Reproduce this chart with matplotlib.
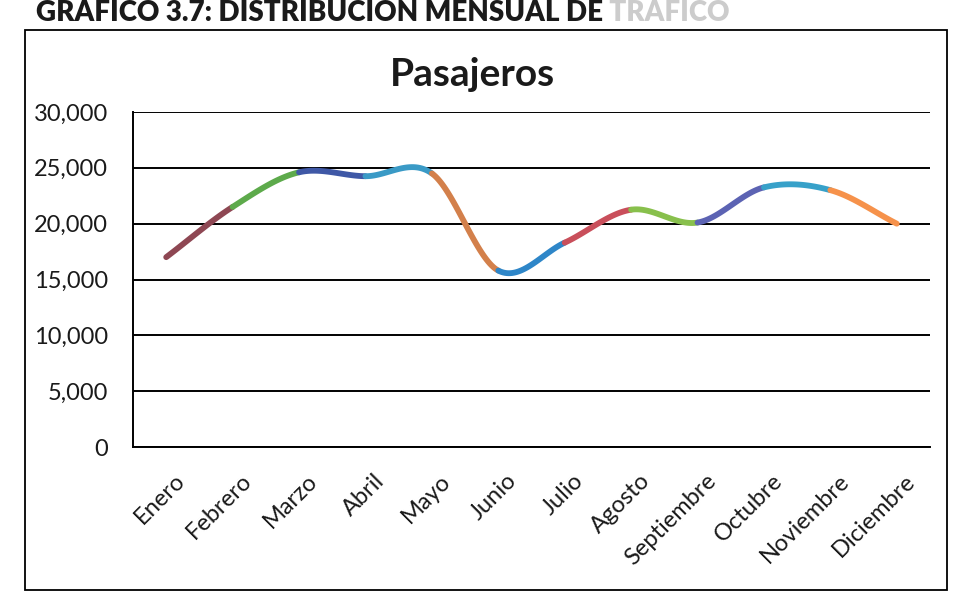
import numpy as np
import matplotlib
matplotlib.use("Agg")
import matplotlib.pyplot as plt
from matplotlib.patches import Rectangle

plt.rcParams['font.family'] = ['Lato', 'DejaVu Sans']

meses = ['Enero', 'Febrero', 'Marzo', 'Abril', 'Mayo', 'Junio', 'Julio',
         'Agosto', 'Septiembre', 'Octubre', 'Noviembre', 'Diciembre']
pasajeros = [17000, 21500, 24600, 24250, 24500, 15800, 18300,
             21250, 20100, 23250, 23000, 20000]
colores = ['#8E4753', '#5DAA4B', '#3F58A6', '#3A9AC6', '#D3804B', '#2E86C8',
           '#C94F5B', '#88C04C', '#5C63B3', '#37A1C9', '#F6924B']
y_ticks = [0, 5000, 10000, 15000, 20000, 25000, 30000]


def tramo_suave(x, y, i, n=40):
    # curva tipo Excel (Catmull-Rom como Bezier) entre el punto i y el i+1
    def tangente(k):
        if k == 0:
            return (x[1] - x[0], y[1] - y[0])
        if k == len(x) - 1:
            return (x[k] - x[k - 1], y[k] - y[k - 1])
        return ((x[k + 1] - x[k - 1]) / 2, (y[k + 1] - y[k - 1]) / 2)
    m0 = tangente(i)
    m1 = tangente(i + 1)
    p0 = np.array([x[i], y[i]])
    p3 = np.array([x[i + 1], y[i + 1]])
    p1 = p0 + np.array(m0) / 3
    p2 = p3 - np.array(m1) / 3
    t = np.linspace(0, 1, n)[:, None]
    pts = (1 - t) ** 3 * p0 + 3 * (1 - t) ** 2 * t * p1 + 3 * (1 - t) * t ** 2 * p2 + t ** 3 * p3
    return pts[:, 0], pts[:, 1]


fig = plt.figure(figsize=(9.55, 6.02), dpi=100)
W, H = 955, 602

# marco exterior del grafico
fig.patches.append(Rectangle((25 / W, 1 - 590 / H), (947 - 25) / W, (590 - 30) / H,
                             transform=fig.transFigure, fill=False, lw=1.3, ec='black'))

cab = fig.text(36 / W, 1 - 21 / H, 'GRAFICO 3.7: DISTRIBUCION MENSUAL DE',
               fontsize=20, fontweight='heavy', color='#1a1a1a', va='baseline', ha='left')
fig.add_artist(plt.Annotation(' TRAFICO', xy=(1, 0), xycoords=cab, va='bottom', ha='left',
                              fontsize=20, fontweight='heavy', color='#cccccc'))

ax = fig.add_axes([133 / W, 1 - 447 / H, (930 - 133) / W, (447 - 112) / H])
fig.text(472 / W, 1 - 74 / H, 'Pasajeros', fontsize=28, fontweight='bold',
         color='#1a1a1a', ha='center', va='center')

x = np.arange(len(meses))
for i in range(len(meses) - 1):
    xs, ys = tramo_suave(x, pasajeros, i)
    ax.plot(xs, ys, color=colores[i], lw=4.2, solid_capstyle='round', zorder=3)

ax.set_xlim(-0.5, len(meses) - 0.5)
ax.set_ylim(0, 30000)
ax.set_yticks(y_ticks)
ax.set_yticklabels([f'{v:,}' for v in y_ticks])
ax.yaxis.grid(True, color='black', lw=1.4)
ax.set_axisbelow(True)

# etiquetas de meses giradas, ancladas por su extremo derecho
ax.set_xticks(x)
ax.set_xticklabels([])
for xi, mes in zip(x, meses):
    ax.annotate(mes, xy=(xi, 0), xycoords=('data', 'axes fraction'),
                xytext=(11, -22), textcoords='offset points',
                rotation=45, rotation_mode='anchor', ha='right', va='center',
                fontsize=17, color='#1a1a1a')

ax.tick_params(axis='y', length=0, pad=18, labelsize=17, labelcolor='#1a1a1a')
ax.tick_params(axis='x', length=0)

for s in ['top', 'right']:
    ax.spines[s].set_visible(False)
ax.spines['left'].set_linewidth(1.4)
ax.spines['bottom'].set_linewidth(1.4)

plt.savefig('out.png', dpi=100)
